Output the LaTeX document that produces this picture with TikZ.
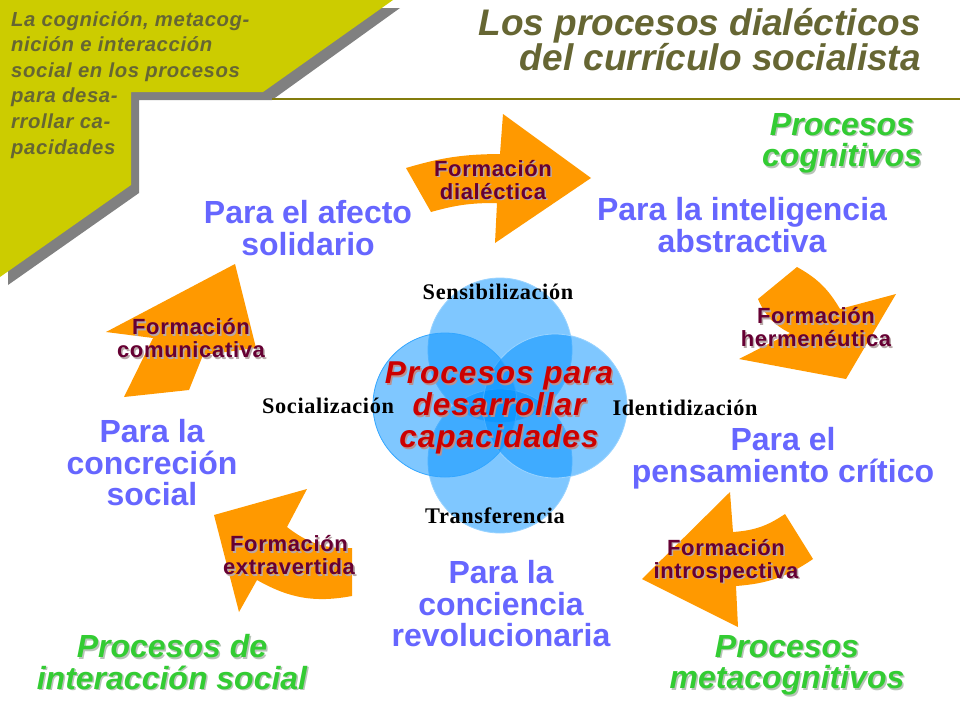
\documentclass[tikz,border=0pt]{standalone}
\usepackage{fontspec}
\setmainfont{Liberation Sans}
\newfontfamily\spacedfont[LetterSpace=3]{Liberation Sans}
\newfontfamily\captionfont[LetterSpace=3]{Liberation Serif}
\newcommand{\shdtxt}[2]{\leavevmode\rlap{\kern1.5pt\raisebox{-1.5pt}{\textcolor{#1}{#2}}}#2}
\newcommand{\fmlbl}[1]{\shdtxt{shdmaroon}{#1}}
\newcommand{\grlbl}[1]{\shdtxt{shdgreen}{#1}}
\newcommand{\rdlbl}[1]{\shdtxt{shdred}{#1}}
\definecolor{bandyellow}{HTML}{CCCC00}
\definecolor{arwor}{HTML}{FF9900}
\definecolor{inkolive}{HTML}{666633}
\definecolor{inkblue}{HTML}{6666FF}
\definecolor{inkgreen}{HTML}{33CC33}
\definecolor{inkmaroon}{HTML}{660033}
\definecolor{inkred}{HTML}{CC0000}
\definecolor{shdmaroon}{HTML}{B8A8A8}
\definecolor{shdgreen}{HTML}{B8C4B8}
\definecolor{shdred}{HTML}{B89090}
\definecolor{petal}{HTML}{0090FF}

\begin{document}
\begin{tikzpicture}[x=1pt,y=-1pt,
    arw/.style={fill=arwor},
    petl/.style={fill=petal,fill opacity=0.5,draw=#1,line width=0.8pt},
    fmn/.style={inkmaroon,align=center,inner sep=0pt,font=\spacedfont\bfseries\fontsize{22}{23}\selectfont},
    aim/.style={inkblue,align=center,inner sep=0pt,font=\bfseries\fontsize{32}{31.5}\selectfont},
    prc/.style={inkgreen,align=center,inner sep=0pt,font=\bfseries\itshape\fontsize{32}{31.5}\selectfont},
    capt/.style={black,inner sep=0pt,font=\captionfont\bfseries\fontsize{22.3}{23}\selectfont}]
  \useasboundingbox (0,0) rectangle (960,720);
  % corner band
  \fill[gray] (8,8) -- (400,8) -- (272,100) -- (139,100) -- (139,193) -- (8,285) -- cycle;
  \fill[bandyellow] (0,0) -- (393,0) -- (263,92) -- (131,92) -- (131,185) -- (0,277) -- cycle;
  \draw[olive!90!black,line width=2pt] (272,98.5) -- (960,98.5);
  \node[inkolive,anchor=north west,align=left,inner sep=0pt,
        font=\spacedfont\bfseries\itshape\fontsize{20.3}{25.6}\selectfont] (note) at (11,11)
    {La cognición, metacog-\\nición e interacción\\social en los procesos\\para desa-\\rrollar ca-\\pacidades};
  \node[inkolive,anchor=north east,align=right,inner sep=0pt,
        font=\bfseries\itshape\fontsize{37}{35}\selectfont] (title) at (921,8)
    {Los procesos dialécticos\\del currículo socialista};
  % arrows
  \path[arw] (406,168) to [bend left=8] (500,154) -- (503,114) -- (591,178) -- (495,243)
     -- (497,203) to [bend right=8] (431,212) -- cycle;
  \path[arw] (797,267) -- (758,299) to [bend right=20] (790,333) -- (739,359) -- (846,379)
     -- (896,294) -- (840,309) to [bend right=15] (797,267) -- cycle;
  \path[arw] (730,492) -- (642,579) -- (738,627) -- (736,586) to [bend right=15] (813,559)
     -- (785,514) to [bend left=15] (733,532) -- cycle;
  \path[arw] (307,489) -- (214,515) -- (239,612) -- (257,580) to [bend right=20] (352,596)
     -- (352,548) to [bend left=20] (287,527) -- cycle;
  \path[arw] (235,264) -- (106,332) -- (153,338) -- (124,397) -- (189,390)
     -- (203,355) -- (256,348) -- cycle;
  % circles
  \filldraw[petl=white!60!petal] (500,350) circle (72);
  \filldraw[petl=white!60!petal] (500,461) circle (72);
  \filldraw[petl=white!60!petal] (555,406) circle (72);
  \filldraw[petl=petal!80!white] (445,405) circle (72);
  % labels
  \node[fmn] (dial) at (493,180.5) {\fmlbl{Formación}\\\fmlbl{dialéctica}};
  \node[fmn] (herm) at (816,328) {\fmlbl{Formación}\\\fmlbl{hermenéutica}};
  \node[fmn] (intr) at (726,561.5) {\fmlbl{Formación}\\\fmlbl{introspectiva}};
  \node[fmn] (extr) at (289,556) {\fmlbl{Formación}\\\fmlbl{extravertida}};
  \node[fmn] (comu) at (191,339) {\fmlbl{Formación}\\\fmlbl{comunicativa}};
  \node[aim] (afec) at (308,228) {Para el afecto\\solidario};
  \node[aim] (intl) at (742,225) {Para la inteligencia\\abstractiva};
  \node[aim] (pens) at (783,458) {Para el\\pensamiento crítico};
  \node[aim] (conc) at (501,604) {Para la\\conciencia\\revolucionaria};
  \node[aim] (cret) at (152,463) {Para la\\concreción\\social};
  \node[prc] (cogn) at (842,144) {\grlbl{Procesos}\\\grlbl{cognitivos}};
  \node[prc] (meta) at (787,666) {\grlbl{Procesos}\\\grlbl{metacognitivos}};
  \node[prc] (soci) at (172,663) {\grlbl{Procesos de}\\\grlbl{interacción social}};
  \node[capt] (sens) at (498,292) {Sensibilización};
  \node[capt] (iden) at (685,408) {Identidización};
  \node[capt] (sclz) at (328,406) {Socialización};
  \node[capt] (tran) at (495,516) {Transferencia};
  \node[inkred,align=center,inner sep=0pt,
        font=\spacedfont\bfseries\itshape\fontsize{31.6}{32}\selectfont] (proc) at (499,409)
    {\rdlbl{Procesos para}\\\rdlbl{desarrollar}\\\rdlbl{capacidades}};
\end{tikzpicture}
\end{document}
